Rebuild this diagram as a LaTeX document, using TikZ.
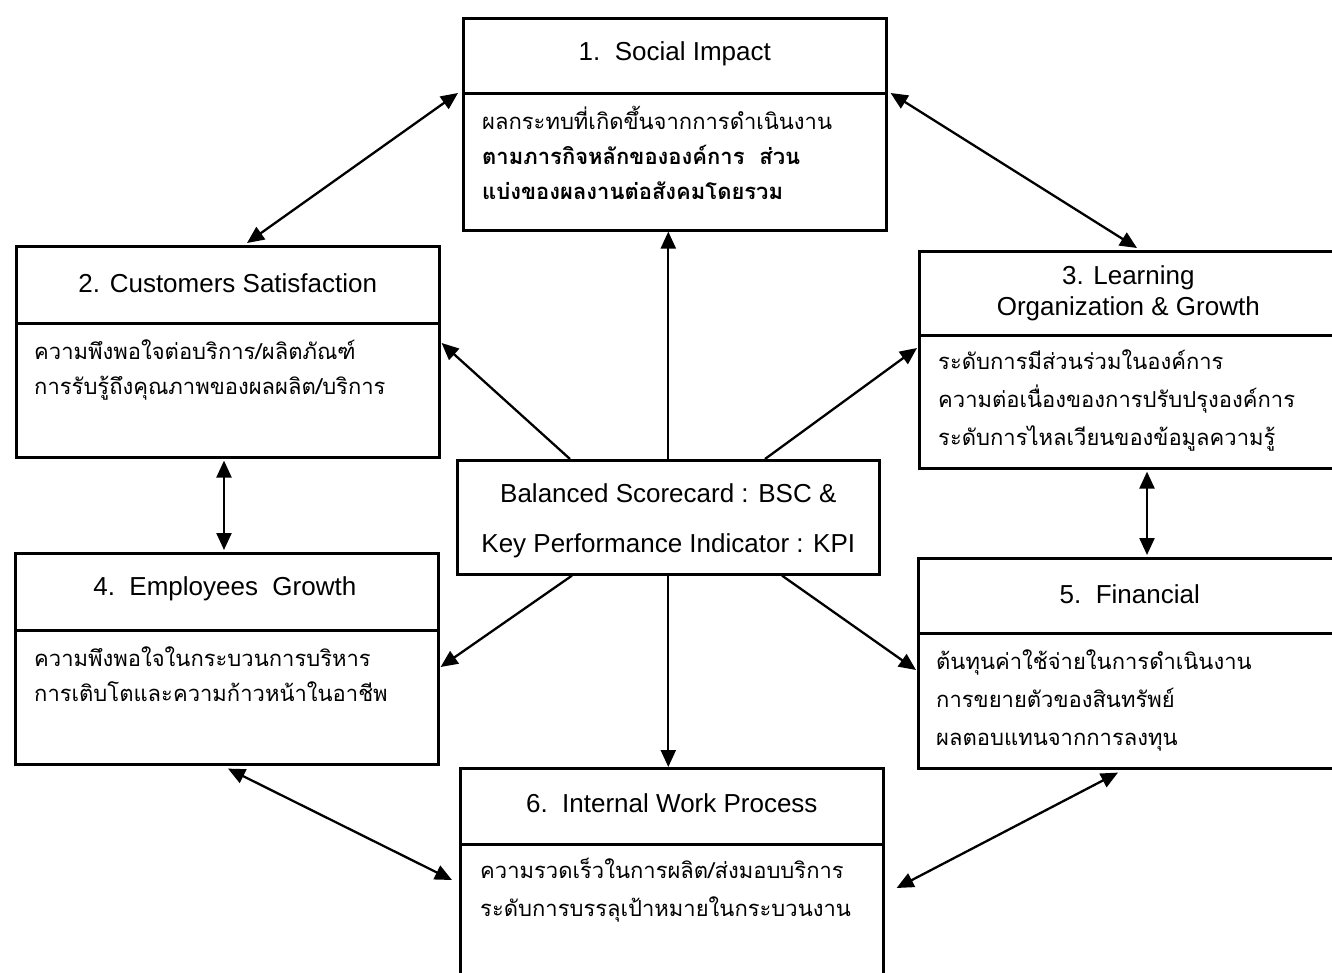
\documentclass[tikz,border=0pt]{standalone}
\usepackage{fontspec}
\setmainfont{Liberation Sans}
\newfontfamily\thaifont[Script=Thai]{Loma}
\usetikzlibrary{arrows.meta,calc}
\begin{document}
\begin{tikzpicture}[x=1pt,y=-1pt,
  boxpart/.style={draw, line width=2.6pt, rectangle, inner sep=0pt, anchor=north west},
  headtxt/.style={font=\fontsize{26}{31}\selectfont, align=center, inner sep=0pt},
  thtxt/.style={font=\thaifont\fontsize{22}{35}\selectfont, align=left, anchor=base west, inner sep=0pt},
  thtxtw/.style={thtxt, font=\thaifont\fontsize{22}{38}\selectfont},
  tipx/.tip={Triangle[length=17pt,width=15pt]},
  conn/.style={line width=2.3pt, tipx-tipx},
  oneway/.style={line width=2.3pt, -tipx}]

\useasboundingbox (0,0) rectangle (1332,973);
\clip (0,0) rectangle (1332,973);

% Box 1
\node[boxpart, minimum width=423pt, minimum height=75pt] (b1h) at (462,17) {};
\node[boxpart, minimum width=423pt, minimum height=137pt] (b1b) at (462,92) {};
\node[headtxt] (b1t) at ($(b1h.center)+(0,-2)$) {1.\ \ Social Impact};
\node[thtxt] (b1x) at ($(b1b.north west)+(20,108)$) {ผลกระทบที่เกิดขึ้นจากการดำเนินงาน\\{\bfseries ตามภารกิจหลักขององค์การ\ \ ส่วน}\\{\bfseries แบ่งของผลงานต่อสังคมโดยรวม}};

% Box 2
\node[boxpart, minimum width=423pt, minimum height=77pt] (b2h) at (15,245) {};
\node[boxpart, minimum width=423pt, minimum height=134pt] (b2b) at (15,322) {};
\node[headtxt] (b2t) at ($(b2h.center)+(0,-2)$) {2. Customers Satisfaction};
\node[thtxt] (b2x) at ($(b2b.north west)+(19,72)$) {ความพึงพอใจต่อบริการ/ผลิตภัณฑ์\\การรับรู้ถึงคุณภาพของผลผลิต/บริการ};

% Box 3
\node[boxpart, minimum width=422pt, minimum height=84pt] (b3h) at (918,250) {};
\node[boxpart, minimum width=422pt, minimum height=133pt] (b3b) at (918,334) {};
\node[headtxt] (b3t) at ($(b3h.center)+(-2,0)$) {3. Learning\\Organization \& Growth};
\node[thtxtw] (b3x) at ($(b3b.north west)+(20,111)$) {ระดับการมีส่วนร่วมในองค์การ\\ความต่อเนื่องของการปรับปรุงองค์การ\\ระดับการไหลเวียนของข้อมูลความรู้};

% Box 4
\node[boxpart, minimum width=423pt, minimum height=77pt] (b4h) at (14,552) {};
\node[boxpart, minimum width=423pt, minimum height=134pt] (b4b) at (14,629) {};
\node[headtxt] (b4t) at ($(b4h.center)+(-2,-3)$) {4.\ \ Employees\ \ Growth};
\node[thtxt] (b4x) at ($(b4b.north west)+(20,72)$) {ความพึงพอใจในกระบวนการบริหาร\\การเติบโตและความก้าวหน้าในอาชีพ};

% Box 5
\node[boxpart, minimum width=423pt, minimum height=75pt] (b5h) at (917,557) {};
\node[boxpart, minimum width=423pt, minimum height=135pt] (b5b) at (917,632) {};
\node[headtxt] (b5t) at ($(b5h.center)+(0,-2)$) {5.\ \ Financial};
\node[thtxtw] (b5x) at ($(b5b.north west)+(19,113)$) {ต้นทุนค่าใช้จ่ายในการดำเนินงาน\\การขยายตัวของสินทรัพย์\\ผลตอบแทนจากการลงทุน};

% Box 6
\node[boxpart, minimum width=423pt, minimum height=76pt] (b6h) at (459,767) {};
\node[boxpart, minimum width=423pt, minimum height=150pt] (b6b) at (459,843) {};
\node[headtxt] (b6t) at ($(b6h.center)+(0,-3)$) {6.\ \ Internal Work Process};
\node[thtxtw] (b6x) at ($(b6b.north west)+(21,73)$) {ความรวดเร็วในการผลิต/ส่งมอบบริการ\\ระดับการบรรลุเป้าหมายในกระบวนงาน};

% Centre
\node[boxpart, minimum width=422pt, minimum height=114pt] (C) at (456,459) {};
\node[font=\fontsize{26}{50}\selectfont, align=center, inner sep=0pt] (Ct) at ($(C.center)+(0,3)$) {Balanced Scorecard : BSC \&\\Key Performance Indicator : KPI};

% Connectors
\draw[conn] ($(b2h.north west)+(232,-2)$) -- ($(b1b.north west)+(-4,1)$);
\draw[conn] ($(b1b.north east)+(3,1)$) -- ($(b3h.north west)+(219,-2)$);
\draw[oneway] (C.north) -- (C.north |- b1b.south);
\draw[oneway] ($(C.north west)+(114,0)$) -- ($(b2b.north east)+(1,21)$);
\draw[oneway] ($(C.north west)+(309,0)$) -- ($(b3b.north west)+(-1,14)$);
\draw[oneway] ($(C.south west)+(116,0)$) -- ($(b4b.north east)+(1,38)$);
\draw[oneway] ($(C.south west)+(326,0)$) -- ($(b5b.north west)+(-1,38)$);
\draw[oneway] (C.south) -- (C.south |- b6h.north);
\draw[conn] ($(b2b.south west)+(209,2)$) -- ($(b4h.north west)+(210,-2)$);
\draw[conn] ($(b3b.south west)+(229,2)$) -- ($(b5h.north west)+(230,-2)$);
\draw[conn] ($(b4b.south west)+(214,3)$) -- ($(b6b.north west)+(-7,37)$);
\draw[conn] ($(b5b.south west)+(201,3)$) -- ($(b6b.north east)+(12,45)$);
\end{tikzpicture}
\end{document}
